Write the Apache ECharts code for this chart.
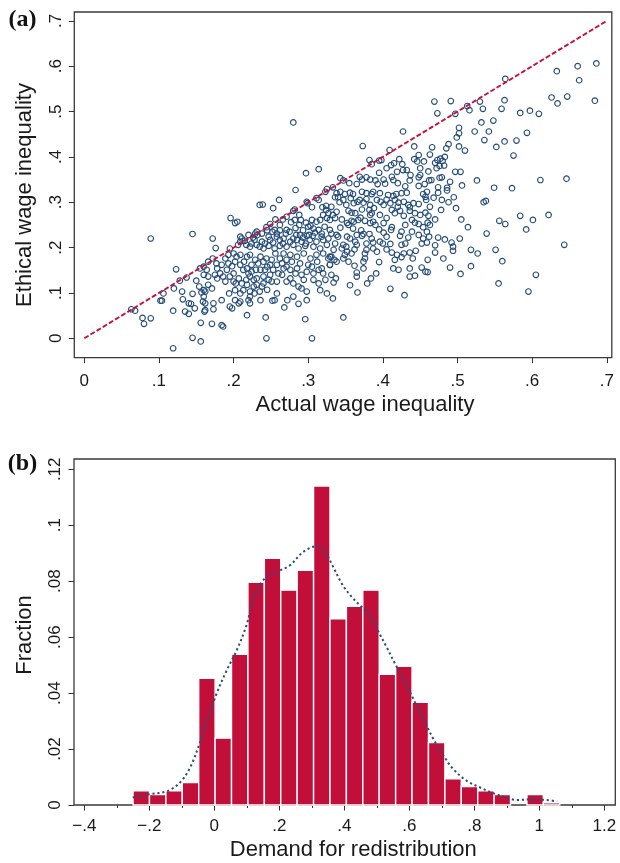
<!DOCTYPE html>
<html>
<head>
<meta charset="utf-8">
<script src="https://cdn.jsdelivr.net/npm/echarts@6/dist/echarts.min.js"></script>
<style>
html,body{margin:0;padding:0;background:#fff;}
#chart{width:620px;height:863px;}
</style>
</head>
<body>
<div id="chart"></div>
<script>
// ---------- Panel (a): actual vs ethical wage inequality ----------
const xTicksA = [0, 0.1, 0.2, 0.3, 0.4, 0.5, 0.6, 0.7];
const yTicksA = [0, 0.1, 0.2, 0.3, 0.4, 0.5, 0.6, 0.7];
const xRangeA = [-0.0134, 0.7067];
const yRangeA = [-0.0428, 0.7195];
const diagonal = [[0, 0], [0.7, 0.7]];
const wagePoints = [
[0.686,0.606],[0.661,0.600],[0.663,0.569],[0.633,0.589],[0.564,0.572],[0.626,0.531],[0.634,0.518],[0.647,0.533],[0.684,0.524],[0.563,0.525],[0.530,0.522],[0.534,0.506],[0.559,0.506],[0.584,0.497],[0.597,0.502],[0.609,0.495],[0.532,0.476],[0.548,0.480],[0.542,0.456],[0.536,0.437],[0.552,0.422],[0.563,0.434],[0.579,0.436],[0.593,0.453],[0.575,0.403],[0.549,0.332],[0.573,0.331],[0.611,0.349],[0.646,0.352],[0.535,0.300],[0.538,0.303],[0.280,0.476],
[0.469,0.522],[0.491,0.523],[0.513,0.512],[0.516,0.503],[0.473,0.496],[0.497,0.495],[0.502,0.464],[0.502,0.452],[0.499,0.443],[0.523,0.456],[0.427,0.456],[0.373,0.424],[0.409,0.415],[0.442,0.423],[0.466,0.421],[0.485,0.419],[0.488,0.428],[0.502,0.423],[0.510,0.414],[0.382,0.393],[0.385,0.384],[0.395,0.392],[0.398,0.393],
[0.411,0.382],[0.415,0.386],[0.422,0.395],[0.426,0.384],[0.442,0.395],[0.448,0.404],[0.446,0.390],[0.419,0.367],[0.427,0.371],[0.432,0.371],[0.450,0.375],[0.461,0.368],[0.470,0.387],[0.473,0.393],[0.477,0.396],[0.480,0.391],[0.483,0.400],[0.472,0.375],[0.476,0.380],[0.482,0.381],[0.497,0.367],[0.504,0.367],[0.526,0.348],[0.506,0.337],[0.333,0.333],[0.347,0.348],[0.343,0.353],[0.369,0.356],[0.372,0.350],[0.378,0.355],[0.383,0.350],[0.390,0.348],[0.393,0.340],[0.401,0.350],[0.403,0.341],[0.412,0.356],[0.414,0.349],[0.436,0.348],[0.448,0.355],[0.450,0.360],[0.462,0.348],[0.465,0.349],[0.476,0.354],[0.479,0.355],[0.448,0.336],[0.474,0.333],[0.486,0.332],
[0.355,0.342],[0.365,0.340],[0.420,0.342],[0.430,0.335],[0.456,0.340],[0.490,0.345],[0.437,0.360],[0.395,0.365],[0.405,0.375],[0.455,0.390],[0.463,0.405],
[0.338,0.320],[0.343,0.323],[0.349,0.318],[0.356,0.321],[0.360,0.318],[0.372,0.323],[0.378,0.320],[0.385,0.318],[0.387,0.323],[0.396,0.320],[0.407,0.316],[0.414,0.314],[0.418,0.318],[0.425,0.320],[0.432,0.321],[0.454,0.318],[0.459,0.323],[0.474,0.321],[0.486,0.326],
[0.336,0.311],[0.340,0.311],[0.347,0.305],[0.351,0.294],[0.361,0.298],[0.366,0.301],[0.369,0.305],[0.374,0.299],[0.383,0.294],[0.392,0.305],[0.397,0.301],[0.401,0.294],[0.410,0.298],[0.416,0.305],[0.421,0.299],[0.428,0.301],[0.434,0.294],[0.436,0.289],[0.441,0.298],[0.448,0.296],[0.457,0.312],[0.458,0.305],[0.463,0.290],[0.479,0.305],[0.495,0.311],[0.498,0.287],
[0.331,0.290],[0.338,0.279],[0.333,0.272],[0.354,0.281],[0.358,0.277],[0.363,0.276],[0.372,0.284],[0.382,0.283],[0.383,0.272],[0.385,0.276],[0.396,0.272],[0.412,0.283],[0.416,0.276],[0.423,0.281],[0.436,0.281],[0.443,0.276],[0.450,0.272],[0.457,0.277],[0.461,0.270],
[0.329,0.261],[0.336,0.265],[0.352,0.254],[0.354,0.250],[0.358,0.259],[0.361,0.257],[0.367,0.261],[0.376,0.259],[0.383,0.254],[0.387,0.257],[0.390,0.250],[0.401,0.254],[0.439,0.261],[0.443,0.255],[0.448,0.252],[0.454,0.245],[0.460,0.255],[0.463,0.250],[0.505,0.262],[0.514,0.245],
[0.342,0.300],[0.357,0.309],[0.378,0.307],[0.388,0.287],[0.405,0.306],[0.420,0.290],[0.428,0.270],[0.405,0.265],[0.370,0.266],[0.345,0.262],[0.395,0.240],[0.412,0.245],[0.430,0.250],[0.470,0.262],[0.478,0.283],[0.488,0.300],[0.468,0.310],[0.360,0.242],[0.343,0.244],[0.371,0.238],[0.405,0.224],[0.434,0.222],[0.462,0.224],[0.470,0.205],[0.405,0.196],[0.362,0.196],[0.440,0.176],[0.395,0.168],[0.362,0.160],
[0.556,0.259],[0.564,0.252],[0.584,0.270],[0.592,0.240],[0.601,0.261],[0.622,0.272],[0.643,0.206],[0.539,0.231],[0.551,0.195],[0.560,0.170],[0.555,0.121],[0.595,0.103],[0.605,0.140],
[0.331,0.231],[0.338,0.228],[0.340,0.224],[0.352,0.224],[0.356,0.220],[0.365,0.228],[0.372,0.226],[0.374,0.230],[0.382,0.230],[0.385,0.220],[0.401,0.233],[0.411,0.239],[0.423,0.226],[0.425,0.235],[0.439,0.235],[0.448,0.228],[0.454,0.220],[0.459,0.235],[0.474,0.222],[0.483,0.218],[0.503,0.220],
[0.336,0.209],[0.347,0.206],[0.351,0.202],[0.363,0.213],[0.365,0.206],[0.378,0.209],[0.387,0.211],[0.396,0.213],[0.400,0.209],[0.410,0.208],[0.425,0.206],[0.430,0.209],[0.452,0.209],[0.459,0.211],[0.492,0.211],[0.494,0.202],
[0.334,0.195],[0.345,0.198],[0.349,0.184],[0.352,0.191],[0.358,0.187],[0.376,0.187],[0.378,0.195],[0.387,0.198],[0.392,0.191],[0.412,0.189],[0.419,0.184],[0.428,0.187],[0.436,0.189],[0.444,0.193],[0.470,0.189],[0.494,0.193],[0.518,0.195],[0.527,0.187],
[0.331,0.180],[0.335,0.173],[0.338,0.169],[0.347,0.176],[0.354,0.169],[0.374,0.169],[0.376,0.176],[0.416,0.173],[0.425,0.179],[0.460,0.173],[0.481,0.176],
[0.329,0.162],[0.374,0.154],[0.414,0.154],[0.421,0.151],[0.436,0.154],[0.452,0.156],[0.457,0.147],[0.460,0.146],[0.490,0.156],[0.518,0.159],
[0.331,0.140],[0.337,0.132],[0.334,0.123],[0.356,0.117],[0.365,0.136],[0.365,0.145],[0.384,0.132],[0.379,0.121],[0.391,0.143],[0.436,0.136],[0.443,0.138],[0.504,0.142],
[0.410,0.109],[0.429,0.095],[0.366,0.101],[0.333,0.088],[0.347,0.046],
[0.297,0.364],[0.314,0.373],[0.283,0.327],[0.261,0.305],[0.235,0.294],[0.239,0.295],[0.253,0.287],[0.196,0.265],[0.202,0.254],[0.205,0.257],[0.145,0.230],[0.172,0.220],[0.176,0.199],[0.298,0.301],[0.299,0.298],[0.311,0.309],[0.314,0.305],[0.323,0.323],[0.325,0.329],[0.282,0.284],[0.280,0.281],[0.288,0.272],[0.271,0.268],[0.249,0.252],[0.244,0.245],[0.255,0.239],[0.258,0.231],[0.271,0.239],[0.275,0.235],[0.270,0.231],[0.288,0.250],[0.300,0.246],[0.303,0.248],[0.307,0.242],[0.311,0.257],[0.316,0.261],[0.320,0.272],[0.325,0.265],[0.327,0.276],[0.305,0.289],[0.324,0.292],[0.324,0.283],[0.298,0.226],[0.301,0.228],[0.289,0.228],[0.285,0.217],[0.280,0.220],[0.267,0.220],[0.262,0.217],[0.247,0.224],[0.238,0.231],[0.232,0.228],[0.229,0.231],[0.220,0.228],[0.209,0.224],[0.211,0.220],[0.209,0.213],[0.206,0.206],[0.222,0.202],[0.224,0.209],[0.231,0.206],[0.235,0.202],[0.240,0.198],[0.247,0.204],[0.255,0.198],[0.262,0.204],[0.271,0.202],[0.280,0.206],[0.287,0.198],[0.296,0.204],[0.307,0.202],[0.316,0.198],[0.325,0.206],[0.195,0.198],[0.319,0.289],[0.305,0.261],[0.314,0.239],[0.322,0.246],[0.329,0.239],[0.318,0.224],[0.327,0.220],[0.290,0.261],[0.282,0.261],[0.262,0.250],[0.231,0.235],[0.249,0.217],[0.238,0.213],[0.291,0.213],[0.302,0.217],[0.311,0.213],[0.320,0.217],
[0.215,0.215],[0.226,0.222],[0.242,0.209],[0.253,0.211],[0.258,0.224],[0.266,0.209],[0.276,0.213],[0.284,0.228],[0.293,0.222],[0.297,0.209],[0.306,0.226],[0.309,0.233],[0.318,0.231],[0.252,0.235],[0.262,0.238],[0.245,0.238],[0.228,0.217],[0.217,0.206],[0.293,0.238],[0.283,0.243],[0.297,0.255],[0.277,0.256],[0.266,0.262],[0.256,0.262],
[0.089,0.044],[0.119,0.061],[0.123,0.152],[0.128,0.127],[0.137,0.134],[0.106,0.099],[0.120,0.110],[0.131,0.103],[0.104,0.083],[0.102,0.083],[0.145,0.098],[0.132,0.086],[0.140,0.077],[0.143,0.076],[0.148,0.066],[0.135,0.059],[0.140,0.054],[0.150,0.127],[0.155,0.154],[0.160,0.158],[0.166,0.169],[0.172,0.176],[0.164,0.151],[0.160,0.140],[0.166,0.136],[0.154,0.114],[0.160,0.106],[0.157,0.101],[0.162,0.103],[0.171,0.110],[0.166,0.118],[0.160,0.092],[0.159,0.081],[0.162,0.077],[0.173,0.077],[0.173,0.064],[0.162,0.062],[0.161,0.059],[0.184,0.084],[0.195,0.070],[0.198,0.066],[0.202,0.084],[0.209,0.081],[0.207,0.077],[0.194,0.099],[0.209,0.099],[0.213,0.106],[0.178,0.132],[0.175,0.140],[0.182,0.143],[0.189,0.125],[0.186,0.136],[0.195,0.136],[0.191,0.151],[0.178,0.154],[0.177,0.165],[0.184,0.162],[0.193,0.165],[0.198,0.159],[0.189,0.176],[0.193,0.184],[0.200,0.187],[0.204,0.180],[0.200,0.143],[0.200,0.125],[0.203,0.121],[0.209,0.162],[0.214,0.169],[0.218,0.180],[0.222,0.184],[0.218,0.154],[0.220,0.143],[0.224,0.147],[0.222,0.136],[0.227,0.129],[0.227,0.114],[0.231,0.118],[0.222,0.103],[0.228,0.099],[0.235,0.103],[0.238,0.114],[0.229,0.173],[0.233,0.165],[0.240,0.169],[0.244,0.176],[0.249,0.162],[0.242,0.151],[0.236,0.151],[0.240,0.136],[0.247,0.129],[0.249,0.140],[0.258,0.125],[0.260,0.143],[0.253,0.151],[0.218,0.051],[0.184,0.029],[0.186,0.026],[0.171,0.032],[0.156,0.034],[0.145,0.001],[0.156,-0.007],[0.119,-0.022],[0.243,0.046],[0.244,0.000],[0.255,0.084],[0.252,0.083],[0.268,0.068],[0.272,0.084],[0.287,0.076],[0.296,0.042],[0.305,0.000],[0.262,0.176],[0.267,0.187],[0.271,0.173],[0.276,0.184],[0.285,0.180],[0.294,0.187],[0.303,0.176],[0.311,0.184],[0.320,0.187],[0.329,0.180],[0.267,0.154],[0.276,0.151],[0.285,0.154],[0.291,0.140],[0.298,0.147],[0.305,0.158],[0.314,0.151],[0.320,0.143],[0.329,0.162],[0.271,0.125],[0.280,0.121],[0.291,0.110],[0.298,0.103],[0.307,0.129],[0.314,0.121],[0.325,0.099],[0.211,0.121],[0.218,0.118],[0.222,0.092],[0.220,0.084],
[0.224,0.162],[0.230,0.151],[0.236,0.180],[0.245,0.158],[0.251,0.173],[0.256,0.187],[0.258,0.162],[0.265,0.165],[0.271,0.158],[0.278,0.169],[0.283,0.143],[0.289,0.165],[0.294,0.129],[0.300,0.162],[0.307,0.143],[0.312,0.169],[0.318,0.154],[0.323,0.129],[0.327,0.176],[0.287,0.114],[0.276,0.132],[0.265,0.140],[0.251,0.125],[0.240,0.121],[0.231,0.132],[0.217,0.129],[0.245,0.107],[0.258,0.099],[0.280,0.092],[0.298,0.084],[0.316,0.106],[0.222,0.077],[0.236,0.084],[0.202,0.106],[0.207,0.132],[0.213,0.151],[0.209,0.184],[0.202,0.169],
[0.063,0.064],[0.068,0.061],[0.078,0.045],[0.080,0.032],[0.089,0.220]
];

// ---------- Panel (b): histogram of demand for redistribution ----------
const binStart = -0.25;
const binWidth = 0.0505;
const fractions = [0.0051,0.0037,0.0051,0.0080,0.0453,0.0239,0.0539,0.0796,0.0882,0.0768,0.0839,0.1140,0.0666,0.0710,0.0768,0.0467,0.0496,0.0367,0.0223,0.0094,0.0066,0.0051,0.0037,0,0.0037,0.0008];
const densityCurve = [[-0.251,0.0027],[-0.198,0.0039],[-0.146,0.0049],[-0.105,0.0081],[-0.074,0.0135],[-0.044,0.0224],[-0.018,0.0314],[0.007,0.0398],[0.038,0.0481],[0.069,0.0553],[0.099,0.0642],[0.120,0.0732],[0.151,0.0804],[0.192,0.0833],[0.233,0.0857],[0.274,0.0905],[0.315,0.0925],[0.346,0.0893],[0.366,0.0851],[0.392,0.0792],[0.418,0.0750],[0.448,0.0714],[0.474,0.0684],[0.500,0.0630],[0.530,0.0565],[0.556,0.0505],[0.582,0.0451],[0.612,0.0380],[0.643,0.0308],[0.674,0.0236],[0.705,0.0177],[0.735,0.0129],[0.776,0.0087],[0.817,0.0063],[0.858,0.0042],[0.899,0.0027],[0.930,0.0018],[0.981,0.0020],[1.022,0.0018],[1.055,0.0013]];
const xTicksB = [-0.4,-0.2,0,0.2,0.4,0.6,0.8,1,1.2];
const xMinorTicksB = [-0.3,-0.1,0.1,0.3,0.5,0.7,0.9,1.1];
const yTicksB = [0,0.02,0.04,0.06,0.08,0.1,0.12];
const xRangeB = [-0.4317, 1.2339];
const yRangeB = [0, 0.12368];

const histData = fractions.map((f, i) => [binStart + i * binWidth, binStart + (i + 1) * binWidth, f]);

function fmt(v) {
  if (Math.abs(v) < 1e-9) return '0';
  let s = String(+(+v).toFixed(3));
  s = s.replace(/^(-?)0\./, '$1.');
  return s.replace('-', '\u2212');
}

const FONT = "'Liberation Sans', Arial, Helvetica, sans-serif";
const TXT = '#1a1a1a';
const AX = '#333';
const FRAME = { show: true, borderColor: '#3a3a3a', borderWidth: 1.3, backgroundColor: '#fff' };

function axis(gi, range, ticks, tickLen, label) {
  return {
    gridIndex: gi, type: 'value', min: range[0], max: range[1],
    axisLine: { show: false, onZero: false },
    splitLine: { show: false },
    axisTick: { show: true, inside: false, length: tickLen, customValues: ticks, lineStyle: { color: AX, width: 1 } },
    axisLabel: label ? Object.assign({ show: true, customValues: ticks, fontFamily: FONT, fontSize: 17, color: TXT, formatter: fmt }, label) : { show: false }
  };
}

const option = {
  animation: false,
  backgroundColor: '#fff',
  grid: [
    Object.assign({ left: 74.3, top: 12, width: 537.5, height: 345.7 }, FRAME),
    Object.assign({ left: 74, top: 459, width: 541.3, height: 346 }, FRAME),
    { left: 74, top: 459, width: 541.3, height: 346, show: false }
  ],
  xAxis: [
    axis(0, xRangeA, xTicksA, 5.5, { margin: 15 }),
    axis(1, xRangeB, xTicksB, 5.5, { margin: 13 }),
    axis(2, xRangeB, xMinorTicksB, 3, null)
  ],
  yAxis: [
    axis(0, yRangeA, yTicksA, 5.5, { rotate: 90, margin: 9 }),
    axis(1, yRangeB, yTicksB, 5.5, { rotate: 90, margin: 10 }),
    Object.assign(axis(2, yRangeB, [], 0, null), { show: false })
  ],
  series: [
    {
      type: 'scatter', xAxisIndex: 0, yAxisIndex: 0,
      data: wagePoints, symbol: 'circle', symbolSize: 5.6,
      itemStyle: { color: 'rgba(255,255,255,0)', borderColor: '#234b77', borderWidth: 1.1, opacity: 1 },
      z: 3
    },
    {
      type: 'line', xAxisIndex: 0, yAxisIndex: 0, data: diagonal, symbol: 'none',
      lineStyle: { color: '#c8103c', width: 1.9, type: [5, 2.2] }, z: 5
    },
    {
      type: 'custom', xAxisIndex: 1, yAxisIndex: 1, data: histData,
      renderItem: function (params, api) {
        const h = api.value(2);
        if (!(h > 0)) return null;
        const p0 = api.coord([api.value(0), h]);
        const p1 = api.coord([api.value(1), 0]);
        return {
          type: 'rect',
          shape: { x: p0[0], y: p0[1], width: p1[0] - p0[0], height: p1[1] - p0[1] },
          style: { fill: '#c10f3a', stroke: '#ffffff', lineWidth: 1.4 }
        };
      },
      z: 2
    },
    {
      type: 'line', xAxisIndex: 1, yAxisIndex: 1, data: densityCurve, symbol: 'none', smooth: 0.35,
      lineStyle: { color: '#27507a', width: 2, type: [2.2, 2.8] }, z: 4
    }
  ],
  graphic: [
    { type: 'text', x: 22.5, y: 20, style: { text: '(a)', font: "bold 24px 'Liberation Serif', 'Times New Roman', serif", fill: '#111', align: 'center', verticalAlign: 'middle' } },
    { type: 'text', x: 22.5, y: 464, style: { text: '(b)', font: "bold 24px 'Liberation Serif', 'Times New Roman', serif", fill: '#111', align: 'center', verticalAlign: 'middle' } },
    { type: 'text', x: 365, y: 405, style: { text: 'Actual wage inequality', font: "22px " + FONT, fill: TXT, align: 'center', verticalAlign: 'middle' } },
    { type: 'text', x: 25, y: 195, rotation: Math.PI / 2, style: { text: 'Ethical wage inequality', font: "22px " + FONT, fill: TXT, align: 'center', verticalAlign: 'middle' } },
    { type: 'text', x: 353.3, y: 850, style: { text: 'Demand for redistribution', font: "22px " + FONT, fill: TXT, align: 'center', verticalAlign: 'middle' } },
    { type: 'text', x: 25, y: 635, rotation: Math.PI / 2, style: { text: 'Fraction', font: "22px " + FONT, fill: TXT, align: 'center', verticalAlign: 'middle' } }
  ]
};

const chart = echarts.init(document.getElementById('chart'), null, { renderer: 'canvas' });
chart.setOption(option);
</script>
</body>
</html>
